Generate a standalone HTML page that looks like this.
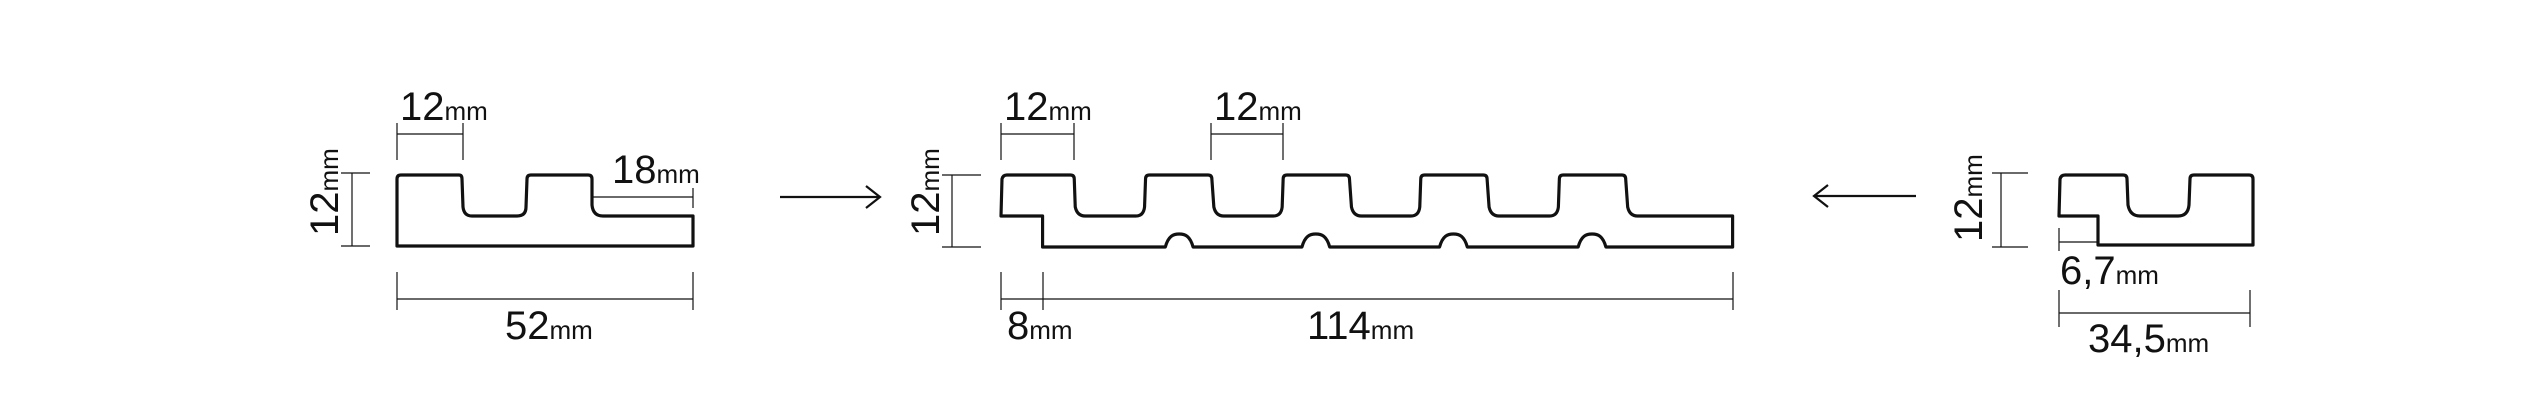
<!DOCTYPE html>
<html><head><style>
html,body{margin:0;padding:0;background:#fff;width:2531px;height:413px;overflow:hidden}
svg{display:block}
text{font-family:"Liberation Sans",sans-serif;fill:#111}
.b{font-size:40px}.s{font-size:26px}
</style></head><body>
<svg width="2531" height="413" viewBox="0 0 2531 413" xmlns="http://www.w3.org/2000/svg">
<g fill="none" stroke="#111" stroke-width="3.2" stroke-linejoin="round">
<!-- left profile -->
<path d="M397,246 L397,179 Q397,175 401,175 L459,175 Q462,175 462,179 L463,207 Q464,216 472,216 L517,216 Q526,216 526,207 L527,179 Q527,175 531,175 L588,175 Q592,175 592,179 L592,205 Q593,216 603,216 L693,216 L693,246 Z"/>
<!-- middle profile -->
<path transform="translate(1001,0) scale(0.99,1) translate(-1001,0)" d="M1001,216 L1002,179 Q1003,175 1007,175 L1071,175 Q1075,175 1075,179 L1076,207 Q1078,216 1086,216 L1137,216 Q1145,216 1146,207 L1147,179 Q1147,175 1151,175 L1210,175 Q1214,175 1214,179 L1216,207 Q1218,216 1226,216 L1276,216 Q1284,216 1285,207 L1286,179 Q1286,175 1290,175 L1349,175 Q1353,175 1353,179 L1355,207 Q1357,216 1365,216 L1415,216 Q1423,216 1424,207 L1425,179 Q1425,175 1429,175 L1488,175 Q1492,175 1492,179 L1494,207 Q1496,216 1504,216 L1555,216 Q1563,216 1564,207 L1565,179 Q1565,175 1569,175 L1628,175 Q1632,175 1632,179 L1634,207 Q1636,216 1644,216 L1740,216 L1740,247 L1612,247 C1609,236 1604,234 1598,234 C1592,234 1587,236 1584,247 L1472,247 C1469,236 1464,234 1458,234 C1452,234 1447,236 1444,247 L1333,247 C1330,236 1325,234 1319,234 C1313,234 1308,236 1305,247 L1195,247 C1192,236 1187,234 1181,234 C1175,234 1170,236 1167,247 L1043,247 L1043,216 Z"/>
<!-- right profile -->
<path d="M2059,216 L2060,179 Q2061,175 2065,175 L2123,175 Q2127,175 2127,179 L2128,205 Q2130,216 2140,216 L2178,216 Q2188,216 2189,205 L2190,179 Q2190,175 2194,175 L2249,175 Q2253,175 2253,179 L2253,245 L2098,245 L2098,216 Z"/>
</g>
<g fill="none" stroke="#111" stroke-width="2.2">
<path d="M780,197 L880,197 M866,186 L880,197 L866,208"/>
<path d="M1916,196 L1814,196 M1828,185 L1814,196 L1828,207"/>
</g>
<g fill="none" stroke="#111" stroke-width="1.2">
<!-- left dims -->
<path d="M397,123 V160 M463,123 V160 M397,134 H463"/>
<path d="M341,173 H370 M341,246 H370 M352,173 V246"/>
<path d="M592,197 H693 M693,188 V208"/>
<path d="M397,272 V310 M693,272 V310 M397,299 H693"/>
<!-- middle dims -->
<path d="M1001,123 V160 M1074,123 V160 M1001,134 H1074"/>
<path d="M1211,123 V160 M1283,123 V160 M1211,134 H1283"/>
<path d="M942,175 H981 M942,247 H981 M952,175 V247"/>
<path d="M1001,272 V310 M1043,272 V310 M1733,272 V310 M1001,299 H1733"/>
<!-- right dims -->
<path d="M1992,173 H2028 M1992,247 H2028 M2001,173 V247"/>
<path d="M2059,228 V251 M2059,242 H2098"/>
<path d="M2059,290 V327 M2250,290 V327 M2059,313 H2250"/>
</g>
<text x="400" y="120"><tspan class="b">12</tspan><tspan class="s">mm</tspan></text>
<text x="612" y="183"><tspan class="b">18</tspan><tspan class="s">mm</tspan></text>
<text x="505" y="339"><tspan class="b">52</tspan><tspan class="s">mm</tspan></text>
<text transform="translate(338,236) rotate(-90)"><tspan class="b">12</tspan><tspan class="s">mm</tspan></text>
<text x="1004" y="120"><tspan class="b">12</tspan><tspan class="s">mm</tspan></text>
<text x="1214" y="120"><tspan class="b">12</tspan><tspan class="s">mm</tspan></text>
<text transform="translate(939,236) rotate(-90)"><tspan class="b">12</tspan><tspan class="s">mm</tspan></text>
<text x="1007" y="339"><tspan class="b">8</tspan><tspan class="s">mm</tspan></text>
<text x="1307" y="339"><tspan class="b">114</tspan><tspan class="s">mm</tspan></text>
<text transform="translate(1982,242) rotate(-90)"><tspan class="b">12</tspan><tspan class="s">mm</tspan></text>
<text x="2060" y="284"><tspan class="b">6,7</tspan><tspan class="s">mm</tspan></text>
<text x="2088" y="352"><tspan class="b">34,5</tspan><tspan class="s">mm</tspan></text>
</svg>
</body></html>
